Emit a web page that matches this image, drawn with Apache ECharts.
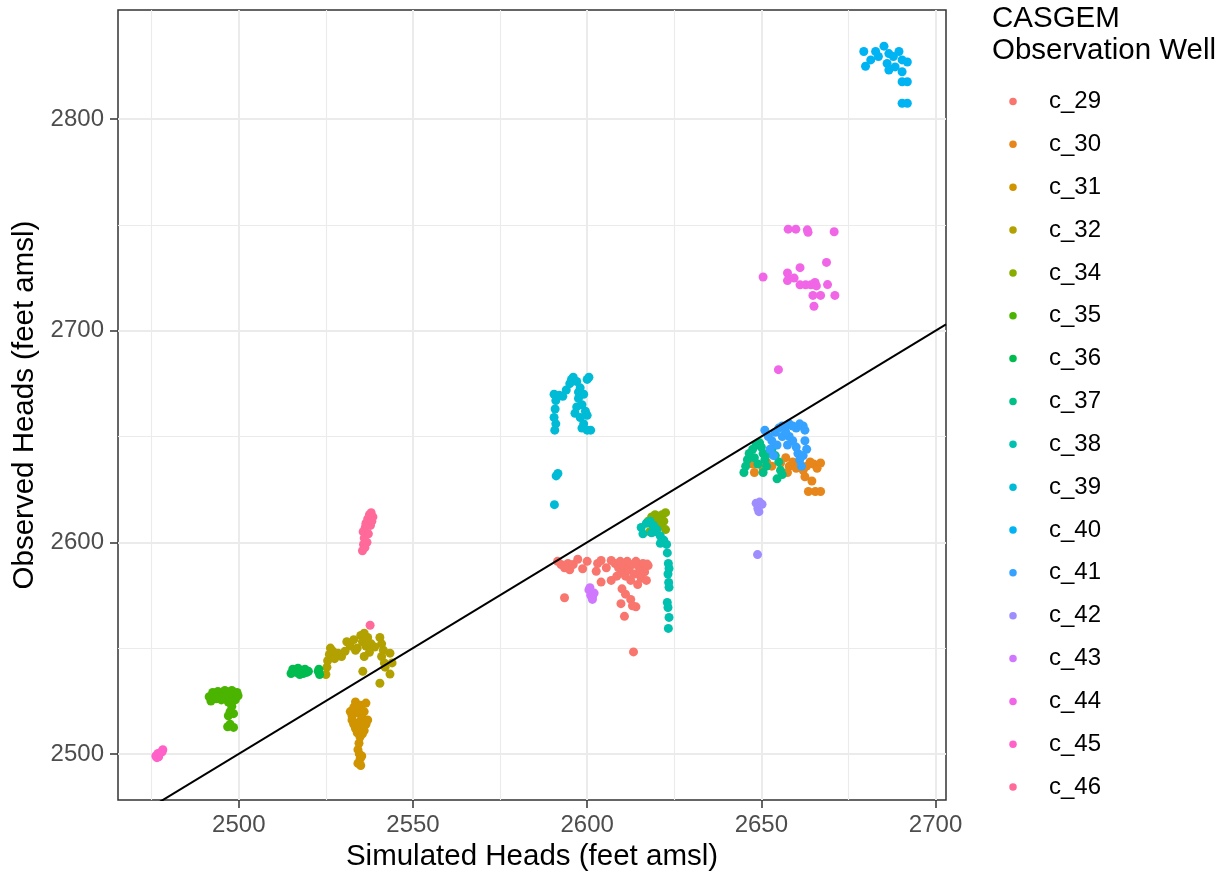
<!DOCTYPE html>
<html>
<head>
<meta charset="utf-8">
<script src="https://cdn.jsdelivr.net/npm/echarts@6/dist/echarts.min.js"></script>
<style>
html,body{margin:0;padding:0;background:#fff;}
#chart{width:1228px;height:877px;}
</style>
</head>
<body>
<div id="chart"></div>
<script>
// ---- Data ----
const wellNames = ['c_29','c_30','c_31','c_32','c_34','c_35','c_36','c_37','c_38','c_39','c_40','c_41','c_42','c_43','c_44','c_45','c_46'];
const wellColors = ['#F8766D','#E7861B','#D09400','#B2A100','#88AC00','#4BB400','#00BC4F','#00C087','#00C0B0','#00BBD6','#00B3F2','#35A2FF','#9D8DFF','#CF78FF','#F066E6','#FF61C9','#FF6A9A'];

const c_29 = [[2591.5,2591],[2592.5,2589.5],[2593.5,2588],[2594.5,2590],[2595,2587],[2596,2589.5],[2597.3,2592],[2598.7,2587.5],[2593.5,2573.8],[2602.6,2586.3],[2604,2591.4],[2604,2581.2],[2606.9,2582],[2606.9,2591.4],[2608,2590],[2609,2588],[2609.5,2591],[2610,2586],[2610.5,2589],[2611,2584],[2611.5,2591],[2612,2587],[2612.5,2582],[2613,2589.5],[2613.5,2585],[2614,2591],[2614.5,2580],[2615,2588],[2615.5,2583],[2616,2590],[2616.5,2586],[2617,2582],[2617.5,2589],[2610,2578],[2611,2575.5],[2612.5,2573],[2609.7,2571],[2614,2569.5],[2613,2570],[2610.7,2565],[2613.3,2548.2],[2608.5,2584],[2605.5,2588],[2603,2590],[2600,2591],[2615.3,2585.2],[2617.2,2589.7]];
const c_30 = [[2647.5,2637],[2648,2633],[2650.5,2635],[2651.5,2638],[2653,2636],[2655.5,2637.5],[2657,2640],[2658,2636],[2659,2638],[2660,2635],[2661,2637],[2662,2634],[2663,2636],[2664,2638],[2665,2637],[2666,2635],[2667,2637.5],[2664.5,2629],[2663.5,2624],[2665.5,2624],[2667,2624],[2657.5,2633],[2662.5,2631]];
const c_31 = [[2532,2520],[2532.5,2518],[2533,2522],[2533.5,2524.5],[2534,2521],[2534.5,2519],[2535,2523],[2535.5,2517],[2536,2520],[2536.5,2524],[2533,2514],[2533.5,2512],[2534,2510],[2534.5,2515],[2535,2513],[2536,2511],[2536.5,2514],[2534.8,2508],[2534.5,2505],[2534.2,2502],[2534.6,2500],[2534.8,2497.5],[2534.2,2495.5],[2535,2494.5],[2535.3,2499],[2532.5,2516],[2537,2516],[2535.5,2509.5]];
const c_32 = [[2525,2537.5],[2525.3,2541],[2525.5,2544],[2526,2547],[2526.3,2550],[2527,2548.5],[2528.5,2547.6],[2529.5,2546],[2531,2553],[2532,2551],[2533,2554],[2534,2550],[2535,2556],[2535.5,2553],[2536,2557],[2536.5,2551],[2537,2555],[2537.5,2548],[2536,2546],[2538,2552],[2535.6,2539],[2540.5,2555],[2541,2552],[2541.5,2549],[2541,2546],[2541.8,2543],[2542,2541],[2543.4,2547.6],[2543.4,2537.7],[2540.5,2533.4],[2539,2550.5],[2533.5,2549],[2530.5,2548.5],[2527.5,2545],[2544,2543]];
const c_34 = [[2617.5,2610],[2618.5,2612],[2619.5,2613],[2620.5,2612],[2621.5,2613],[2622.5,2614],[2622,2610],[2621,2608],[2622.5,2606],[2618,2605],[2619,2607],[2620,2610.5]];
const c_35 = [[2491.5,2527],[2492,2525],[2492.5,2529],[2493,2527.5],[2493.5,2526],[2494,2529.5],[2494.5,2527],[2495,2525.5],[2495.5,2528.5],[2496,2530],[2496.5,2527],[2497,2529],[2497.5,2526],[2498,2530],[2498.5,2528],[2499,2525.5],[2499.5,2529],[2499.8,2527.5],[2497,2524.5],[2498,2522.5],[2497.5,2520],[2498.5,2519],[2497,2518],[2497.5,2514],[2498.5,2512.5],[2496.8,2512.8]];
const c_36 = [[2515,2538],[2515.5,2540],[2516.5,2538.5],[2517,2540.5],[2517.5,2537.5],[2518,2539.5],[2518.5,2538],[2519,2540],[2519.5,2538.5],[2520,2539],[2523,2540],[2523.2,2537.5],[2522.8,2539]];
const c_37 = [[2645,2633],[2645.5,2636],[2646,2639],[2646.5,2642],[2647.5,2644],[2648.5,2646],[2649.5,2647],[2650,2645],[2650.5,2642],[2651,2639],[2651.5,2636],[2652,2642],[2653,2644],[2654,2641],[2655,2638],[2655.5,2634],[2656,2632],[2654.5,2630],[2650.5,2633],[2648,2640],[2649,2637]];
const c_38 = [[2615.5,2607],[2616,2604],[2617,2609],[2618,2610],[2619,2608],[2620,2606],[2621,2603],[2622,2601],[2622.8,2599],[2623,2595],[2623.3,2590],[2623.5,2587.6],[2623.2,2585],[2623.4,2581],[2623.5,2578.7],[2623,2571.6],[2623.2,2569.2],[2623.5,2564.5],[2623.3,2559.3],[2619.5,2605],[2618.5,2604.5],[2621,2599.5]];
const c_39 = [[2590.5,2670],[2591,2667],[2590.8,2663],[2590.5,2659],[2591,2656],[2590.7,2653],[2592,2669.5],[2593,2669],[2594,2672],[2595,2675],[2595.5,2677],[2596,2678],[2597,2676],[2598,2673],[2599,2670],[2600,2677],[2600.5,2678],[2597.5,2668],[2598.5,2665],[2599.5,2662],[2600,2660],[2596.5,2661],[2597,2664],[2598,2659],[2599,2656],[2600,2653],[2601,2653],[2598.5,2654],[2597.5,2671],[2591.1,2631.4],[2591.6,2632.5],[2590.6,2617.8]];
const c_40 = [[2679.4,2832],[2679.9,2825],[2681.4,2828],[2682.8,2832],[2685.2,2834.5],[2686.6,2831],[2686.1,2826.3],[2686.6,2823.2],[2689.5,2832],[2690.4,2828],[2691.9,2827],[2690.4,2822.4],[2690.4,2817.7],[2691.9,2817.7],[2690.4,2807.5],[2691.9,2807.5],[2683.6,2829.6],[2687.9,2829.6],[2688.4,2824.7]];
const c_41 = [[2651,2653],[2652,2650],[2653,2648],[2652.5,2644],[2654,2652],[2655,2654],[2656,2655],[2657,2654.5],[2658,2656],[2659,2655],[2660,2654],[2661,2656],[2662,2655],[2662.5,2653],[2658,2650],[2659,2648],[2660,2645],[2660.5,2642],[2661,2639],[2661.5,2636],[2662,2641],[2657.5,2646],[2653.5,2641],[2656,2650],[2662.5,2648],[2663,2644],[2654.5,2646],[2657,2652]];
const c_42 = [[2648.5,2618.5],[2649.5,2619],[2650.2,2618],[2649,2616],[2649.3,2614.5],[2648.9,2594.2]];
const c_43 = [[2600.5,2577.5],[2601,2575],[2601.5,2574],[2602,2576],[2600.8,2578.5],[2601.5,2573]];
const c_44 = [[2657.7,2748],[2659.9,2748],[2663.2,2747.7],[2663.4,2746.5],[2670.9,2746.8],[2650.5,2725.4],[2657.5,2727.3],[2661.1,2729.8],[2668.7,2732.3],[2657.5,2723.7],[2659.4,2724.9],[2661.1,2721.7],[2662.7,2721.7],[2664.2,2721.7],[2665.4,2722.8],[2665.8,2721.2],[2669,2721.8],[2664.8,2716.7],[2667,2716.7],[2671.1,2716.7],[2665.1,2711.6],[2654.9,2681.6]];
const c_45 = [[2476.2,2499],[2476.8,2500.2],[2477.5,2500.5],[2478.2,2502],[2477,2498.6],[2478,2501],[2476.5,2498.2]];
const c_46 = [[2535.5,2596],[2535.8,2599],[2536,2602],[2535.7,2605],[2536.3,2607],[2536.5,2609],[2537,2611],[2537.5,2613],[2538,2614],[2538.5,2612],[2537.8,2608],[2537.2,2604],[2536.8,2600],[2538.2,2610],[2536.2,2597.5],[2537.7,2560.8]];
const wellData = [c_29,c_30,c_31,c_32,c_34,c_35,c_36,c_37,c_38,c_39,c_40,c_41,c_42,c_43,c_44,c_45,c_46];

const xLimits = [2465.33, 2703.0];
const yLimits = [2478.2, 2851.6];
const xMajor = [2500, 2550, 2600, 2650, 2700];
const xMinor = [2475, 2525, 2575, 2625, 2675];
const yMajor = [2500, 2600, 2700, 2800];
const yMinor = [2550, 2650, 2750];

// ---- Chart ----
const FONT = 'Liberation Sans, Arial, Helvetica, sans-serif';
const chart = echarts.init(document.getElementById('chart'), null, {renderer: 'canvas'});

const gridLineData = []
  .concat(xMinor.map(v => ({xAxis: v, lineStyle: {width: 1.1}})))
  .concat(yMinor.map(v => ({yAxis: v, lineStyle: {width: 1.1}})))
  .concat(xMajor.map(v => ({xAxis: v, lineStyle: {width: 2}})))
  .concat(yMajor.map(v => ({yAxis: v, lineStyle: {width: 2}})));

const series = [{
  name: '__grid',
  type: 'scatter',
  data: [],
  z: 0,
  silent: true,
  markLine: {
    silent: true,
    z: 1,
    symbol: ['none', 'none'],
    label: {show: false},
    emphasis: {disabled: true},
    animation: false,
    lineStyle: {type: 'solid', color: '#EBEBEB'},
    data: gridLineData
  }
}];

wellNames.forEach((n, i) => {
  series.push({
    name: n,
    type: 'scatter',
    data: wellData[i],
    symbol: 'circle',
    symbolSize: 9,
    itemStyle: {color: wellColors[i], opacity: 1},
    z: 10,
    animation: false
  });
});

series.push({
  name: '__abline',
  type: 'line',
  data: [[xLimits[0], xLimits[0]], [xLimits[1], xLimits[1]]],
  showSymbol: false,
  symbol: 'none',
  lineStyle: {color: '#000', width: 2},
  z: 11,
  silent: true,
  clip: true,
  animation: false
});

const plainNum = v => String(Math.round(v));

chart.setOption({
  backgroundColor: '#fff',
  animation: false,
  textStyle: {fontFamily: FONT},
  title: {
    text: 'CASGEM\nObservation Well',
    left: 992,
    top: 3,
    padding: 0,
    textStyle: {fontFamily: FONT, fontSize: 29.5, fontWeight: 'normal', color: '#000', lineHeight: 32}
  },
  legend: {
    data: wellNames,
    orient: 'vertical',
    left: 1009.25,
    top: 89.5,
    padding: 0,
    itemWidth: 62,
    itemHeight: 7.5,
    itemGap: 18.85,
    icon: 'circle',
    selectedMode: false,
    textStyle: {fontFamily: FONT, fontSize: 24, color: '#000', lineHeight: 24}
  },
  grid: {
    left: 118, right: 282, top: 10, bottom: 77,
    outerBoundsMode: 'none',
    show: true, borderColor: '#333333', borderWidth: 1.5, backgroundColor: '#fff',
    containLabel: false
  },
  xAxis: {
    type: 'value',
    min: xLimits[0], max: xLimits[1],
    name: 'Simulated Heads (feet amsl)',
    nameLocation: 'middle',
    nameGap: 40,
    nameTextStyle: {fontFamily: FONT, fontSize: 29.5, color: '#000'},
    axisLine: {show: false},
    axisTick: {show: true, customValues: xMajor, length: 8, lineStyle: {color: '#333333', width: 1.5}},
    axisLabel: {customValues: xMajor, formatter: plainNum, margin: 13, fontFamily: FONT, fontSize: 24, color: '#4D4D4D'},
    splitLine: {show: false}
  },
  yAxis: {
    type: 'value',
    min: yLimits[0], max: yLimits[1],
    name: 'Observed Heads (feet amsl)',
    nameLocation: 'middle',
    nameGap: 68,
    nameTextStyle: {fontFamily: FONT, fontSize: 29.5, color: '#000'},
    axisLine: {show: false},
    axisTick: {show: true, customValues: yMajor, length: 8, lineStyle: {color: '#333333', width: 1.5}},
    axisLabel: {customValues: yMajor, formatter: plainNum, margin: 14, fontFamily: FONT, fontSize: 24, color: '#4D4D4D'},
    splitLine: {show: false}
  },
  series: series
});
</script>
</body>
</html>
